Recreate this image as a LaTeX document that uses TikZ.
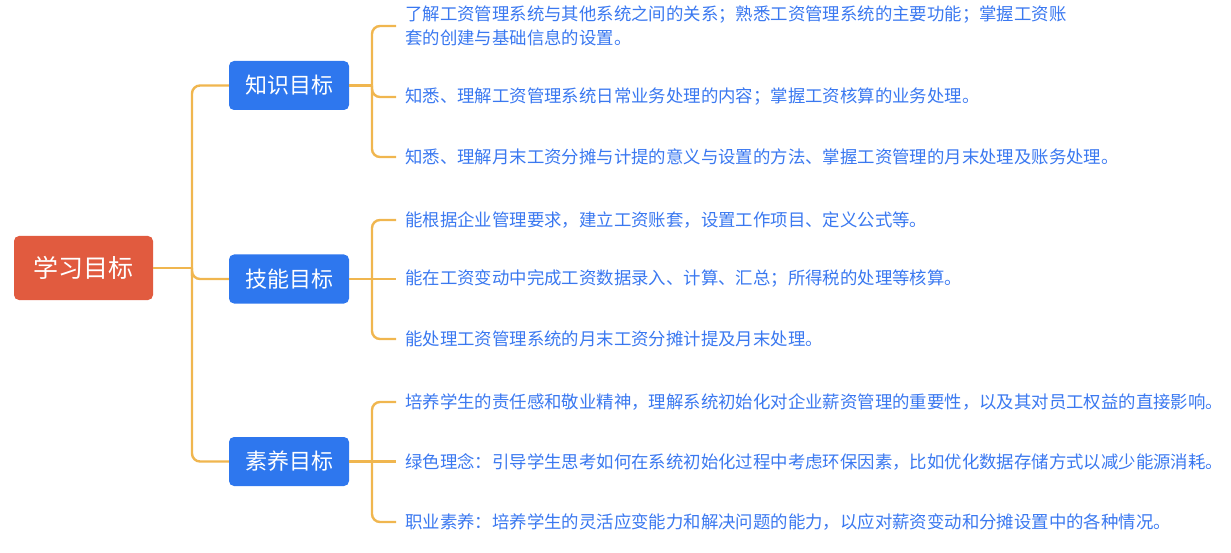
\documentclass[tikz,border=0pt]{standalone}
\usepackage{fontspec}
\setmainfont{Noto Sans CJK SC}
\definecolor{lineor}{HTML}{F0B64F}
\definecolor{rootred}{HTML}{E15B3F}
\definecolor{nodeblue}{HTML}{2E77EE}
\definecolor{leafblue}{HTML}{3A78F0}
\begin{document}
\begin{tikzpicture}[x=1pt,y=-1pt,
 conn/.style={draw=lineor, line width=2.4pt, rounded corners=8pt},
 rootbox/.style={fill=rootred, rounded corners=5pt, minimum width=139pt, minimum height=64pt, text=white, font=\fontsize{25}{30}\selectfont, inner sep=0pt},
 catbox/.style={fill=nodeblue, rounded corners=5pt, minimum width=120pt, minimum height=49pt, text=white, font=\fontsize{22}{26}\selectfont, inner sep=0pt},
 leaf/.style={anchor=west, text=leafblue, font=\fontsize{17.4}{24}\selectfont, inner xsep=9pt, inner ysep=2pt, align=left}]
\useasboundingbox (0,0) rectangle (1231,553);
\node[rootbox] (root) at (83.5,268) {学习目标};
\node[catbox] (k) at (289,85.5) {知识目标};
\node[catbox] (s) at (289,279) {技能目标};
\node[catbox] (y) at (289,461.5) {素养目标};
\coordinate (tr) at (192,268);
\draw[conn] (root.east) -- (tr);
\draw[conn] (k.west) -| (tr) |- (s.west);
\draw[conn] (tr) |- (y.west);
% knowledge leaves
\node[leaf] (k1) at (396,26) {了解工资管理系统与其他系统之间的关系；熟悉工资管理系统的主要功能；掌握工资账\\套的创建与基础信息的设置。};
\node[leaf] (k2) at (396,97) {知悉、理解工资管理系统日常业务处理的内容；掌握工资核算的业务处理。};
\node[leaf] (k3) at (396,157) {知悉、理解月末工资分摊与计提的意义与设置的方法、掌握工资管理的月末处理及账务处理。};
\coordinate (kj) at (372,85.5);
\draw[conn] (k.east) -- (kj);
\draw[conn] (kj) |- (k1.west);
\draw[conn] (kj) |- (k2.west);
\draw[conn] (kj) |- (k3.west);
% skill leaves
\node[leaf] (s1) at (396,220) {能根据企业管理要求，建立工资账套，设置工作项目、定义公式等。};
\node[leaf] (s2) at (396,279) {能在工资变动中完成工资数据录入、计算、汇总；所得税的处理等核算。};
\node[leaf] (s3) at (396,339) {能处理工资管理系统的月末工资分摊计提及月末处理。};
\coordinate (sj) at (372,279);
\draw[conn] (s.east) -- (sj);
\draw[conn] (sj) |- (s1.west);
\draw[conn] (sj) -- (s2.west);
\draw[conn] (sj) |- (s3.west);
% quality leaves
\node[leaf] (y1) at (396,402) {培养学生的责任感和敬业精神，理解系统初始化对企业薪资管理的重要性，以及其对员工权益的直接影响。};
\node[leaf] (y2) at (396,461.5) {绿色理念：引导学生思考如何在系统初始化过程中考虑环保因素，比如优化数据存储方式以减少能源消耗。};
\node[leaf] (y3) at (396,522) {职业素养：培养学生的灵活应变能力和解决问题的能力，以应对薪资变动和分摊设置中的各种情况。};
\coordinate (yj) at (372,461.5);
\draw[conn] (y.east) -- (yj);
\draw[conn] (yj) |- (y1.west);
\draw[conn] (yj) -- (y2.west);
\draw[conn] (yj) |- (y3.west);
\end{tikzpicture}
\end{document}
